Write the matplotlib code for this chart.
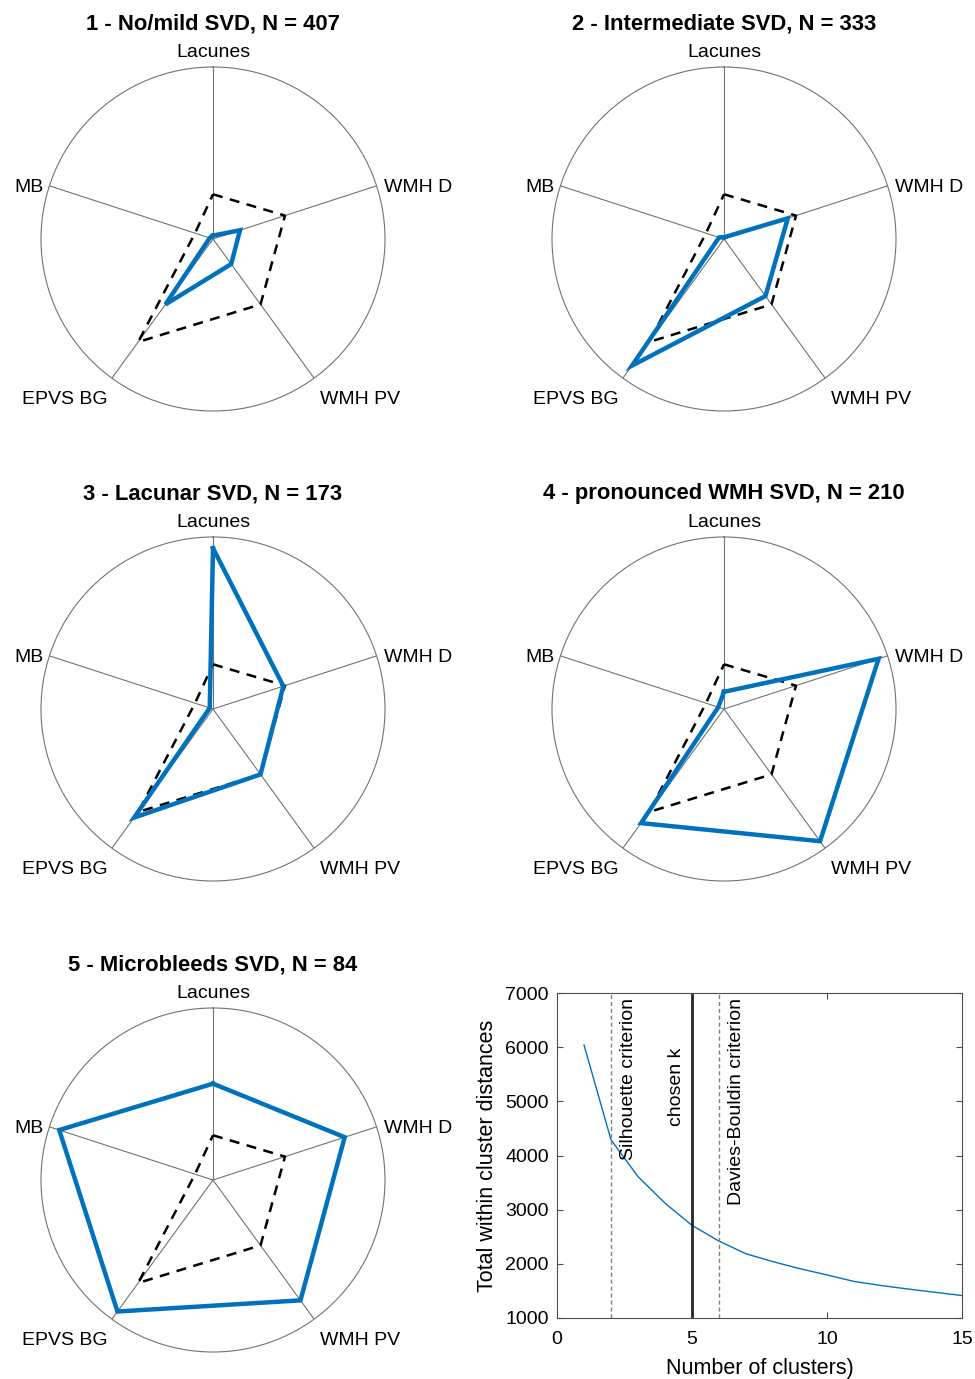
import numpy as np
import matplotlib
matplotlib.use("Agg")
import matplotlib.pyplot as plt

plt.rcParams['font.family'] = ['Liberation Sans', 'DejaVu Sans']

# radar categories, clockwise from the top
categories = ["Lacunes", "WMH D", "WMH PV", "EPVS BG", "MB"]

# overall mean profile (dashed), same in every panel
overall = [0.26, 0.44, 0.47, 0.74, 0.11]

titles = ["1 - No/mild SVD, N = 407",
          "2 - Intermediate SVD, N = 333",
          "3 - Lacunar SVD, N = 173",
          "4 - pronounced WMH SVD, N = 210",
          "5 - Microbleeds SVD, N = 84"]

cluster1 = [0.02, 0.165, 0.18, 0.47, 0.02]
cluster2 = [0.01, 0.39, 0.41, 0.91, 0.03]
cluster3 = [0.935, 0.43, 0.47, 0.78, 0.02]
cluster4 = [0.10, 0.945, 0.95, 0.82, 0.035]
cluster5 = [0.56, 0.805, 0.865, 0.945, 0.94]
clusters = [cluster1, cluster2, cluster3, cluster4, cluster5]

# elbow curve
k_values = np.arange(1, 16)
within_dist = [6040, 4290, 3610, 3120, 2710, 2420, 2185, 2040, 1910,
               1795, 1675, 1600, 1535, 1475, 1415]
silhouette_k = 2
chosen_k = 5
davies_k = 6

blue = (0, 0.447, 0.741)

fig = plt.figure(figsize=(9.75, 13.79), dpi=100)

# radar axes positions (left, bottom) in figure fraction
w, h = 344 / 975, 344 / 1379
positions = [(41 / 975, 1 - 411 / 1379), (552 / 975, 1 - 411 / 1379),
             (41 / 975, 1 - 881 / 1379), (552 / 975, 1 - 881 / 1379),
             (41 / 975, 1 - 1352 / 1379)]

angles = np.linspace(0, 2 * np.pi, len(categories), endpoint=False)
closed = np.append(angles, angles[0])

# label offsets (points) from each spoke end, with alignment
label_pos = [((0, 12), 'center'), ((5, 0), 'left'), ((4.5, -14), 'left'),
             ((-3, -14), 'right'), ((-4.5, 0), 'right')]

for i, (left, bottom) in enumerate(positions):
    ax = fig.add_axes([left, bottom, w, h], projection='polar')
    ax.set_theta_offset(np.pi / 2)
    ax.set_theta_direction(-1)
    ax.set_ylim(0, 1)
    ax.set_yticks([])
    ax.set_xticks(angles)
    ax.set_xticklabels([])
    ax.tick_params(axis='x', length=0)
    ax.xaxis.grid(True, color='0.45', lw=0.8, ls='-')
    ax.spines['polar'].set_color('0.45')
    ax.spines['polar'].set_linewidth(0.8)

    ax.plot(closed, np.append(overall, overall[0]), color='black', lw=1.8,
            ls=(0, (4, 3)), zorder=3)
    vals = clusters[i]
    ax.plot(closed, np.append(vals, vals[0]), color=blue, lw=3.2,
            solid_joinstyle='miter', zorder=4)

    for a, name, (off, ha) in zip(angles, categories, label_pos):
        ax.annotate(name, xy=(a, 1.0), xytext=off, textcoords='offset points',
                    ha=ha, va='center_baseline', fontsize=14,
                    annotation_clip=False)
    ax.text(0.5, 1.125, titles[i], transform=ax.transAxes, ha='center',
            va='center', fontsize=15.8, fontweight='bold')

# elbow plot
ax = fig.add_axes([557 / 975, 1 - 1318 / 1379, 405 / 975, 325 / 1379])
ax.plot(k_values, within_dist, color=blue, lw=1)
ax.axvline(silhouette_k, color='0.5', lw=1, ls=(0, (3, 2)))
ax.axvline(davies_k, color='0.5', lw=1, ls=(0, (3, 2)))
ax.axvline(chosen_k, color='0.15', lw=2)
ax.text(2.63, 6900, "Silhouette criterion", rotation=90, ha='center',
        va='top', fontsize=14)
ax.text(4.44, 6000, "chosen k", rotation=90, ha='center', va='top',
        fontsize=14)
ax.text(6.63, 6900, "Davies-Bouldin criterion", rotation=90, ha='center',
        va='top', fontsize=14)
ax.set_xlim(0, 15)
ax.set_ylim(1000, 7000)
ax.set_xticks([0, 5, 10, 15])
ax.set_yticks(range(1000, 7001, 1000))
ax.tick_params(direction='in', top=True, right=True, labelsize=14,
               length=4, color='0.3')
ax.tick_params(axis='x', pad=9)
ax.tick_params(axis='y', pad=6)
for s in ax.spines.values():
    s.set_color('0.3')
ax.set_xlabel("Number of clusters)", fontsize=15.5, labelpad=7.5)
ax.set_ylabel("Total within cluster distances", fontsize=15.5, labelpad=5)

fig.savefig("out.png", dpi=100)
